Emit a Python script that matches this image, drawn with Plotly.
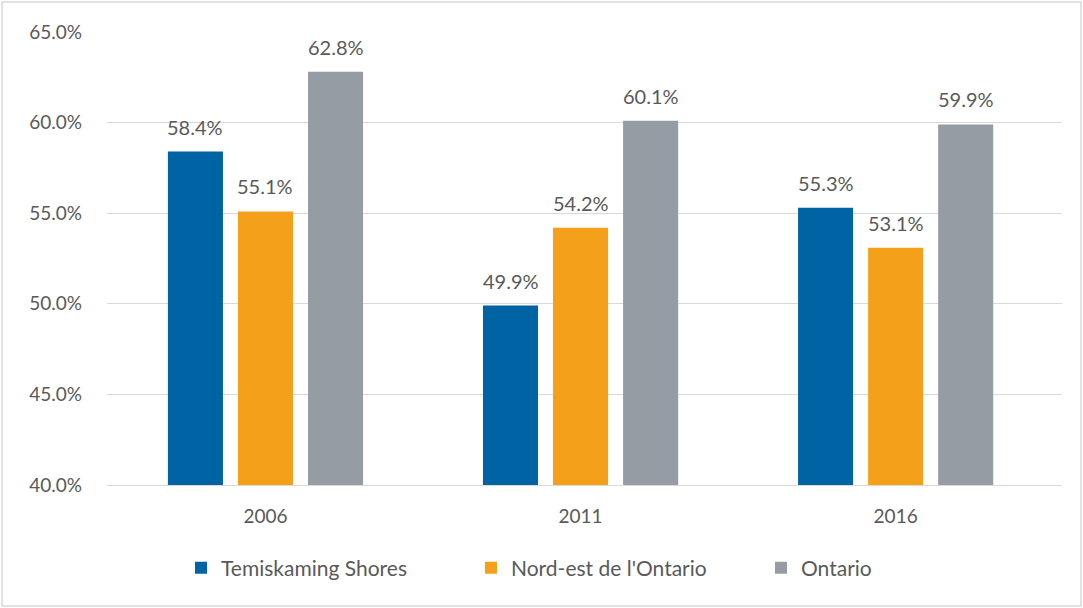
import plotly.graph_objects as go

years = ["2006", "2011", "2016"]
series_names = ["Temiskaming Shores", "Nord-est de l'Ontario", "Ontario"]
temiskaming = [58.4, 49.9, 55.3]
nord_est = [55.1, 54.2, 53.1]
ontario = [62.8, 60.1, 59.9]
colors = ["#0063A3", "#F5A01B", "#959CA3"]
y_ticks = [40, 45, 50, 55, 60, 65]
y_tick_labels = ["40.0%", "45.0%", "50.0%", "55.0%", "60.0%", "65.0%"]

FONT = "Lato, Open Sans, sans-serif"
TXT = "#595959"

BARGAP = 0.333
GROUPGAP = 0.214
n_series = 3
slot = (1 - BARGAP) / n_series

fig = go.Figure()
all_vals = [temiskaming, nord_est, ontario]
for name, vals, c in zip(series_names, all_vals, colors):
    fig.add_trace(go.Bar(
        x=years, y=vals, name=name, marker=dict(color=c, line=dict(width=0)),
    ))

annotations = []
for s, vals in enumerate(all_vals):
    off = (s - (n_series - 1) / 2) * slot
    for i, v in enumerate(vals):
        annotations.append(dict(
            x=i + off, y=v, xref="x", yref="y", text=f"{v:.1f}%",
            showarrow=False, yanchor="bottom", yshift=11,
            font=dict(size=20, color=TXT, family=FONT),
        ))

W, H = 1083, 608
ml, mr, mt, mb = 107, 21, 32, 123
pw, ph = W - ml - mr, H - mt - mb

def px_x(x):
    return (x - ml) / pw

def px_y(y):
    return (H - mb - y) / ph

fig.update_layout(
    width=W, height=H,
    margin=dict(l=ml, r=mr, t=mt, b=mb, autoexpand=False),
    paper_bgcolor="white", plot_bgcolor="white",
    barmode="group", bargap=BARGAP, bargroupgap=GROUPGAP,
    font=dict(family=FONT, color=TXT, size=19),
    showlegend=True,
    legend=dict(orientation="h", x=px_x(181), xanchor="left", y=px_y(568), yanchor="middle",
                font=dict(size=21, color=TXT, family=FONT), traceorder="normal",
                itemwidth=30, entrywidth=245, entrywidthmode="pixels"),
    xaxis=dict(type="category", range=[-0.503, 2.528],
               showgrid=False, showline=True, linecolor="#D9D9D9", linewidth=1,
               ticks="", tickfont=dict(size=19, color=TXT), ticklabelstandoff=14),
    yaxis=dict(range=[40, 65], tickvals=y_ticks, ticktext=y_tick_labels,
               showgrid=True, gridcolor="#D9D9D9", gridwidth=1, zeroline=False,
               showline=False, ticks="", tickfont=dict(size=19, color=TXT),
               ticklabelstandoff=24),
    annotations=annotations,
    shapes=[dict(type="rect", xref="paper", yref="paper",
                 x0=px_x(2), x1=px_x(1081), y0=px_y(606), y1=px_y(2),
                 line=dict(color="#D9D9D9", width=1.5), fillcolor="rgba(0,0,0,0)", layer="below")],
)

fig.write_html("out.html", config={"displayModeBar": False},
               post_script="document.body.style.margin='0';document.body.style.padding='0';")
